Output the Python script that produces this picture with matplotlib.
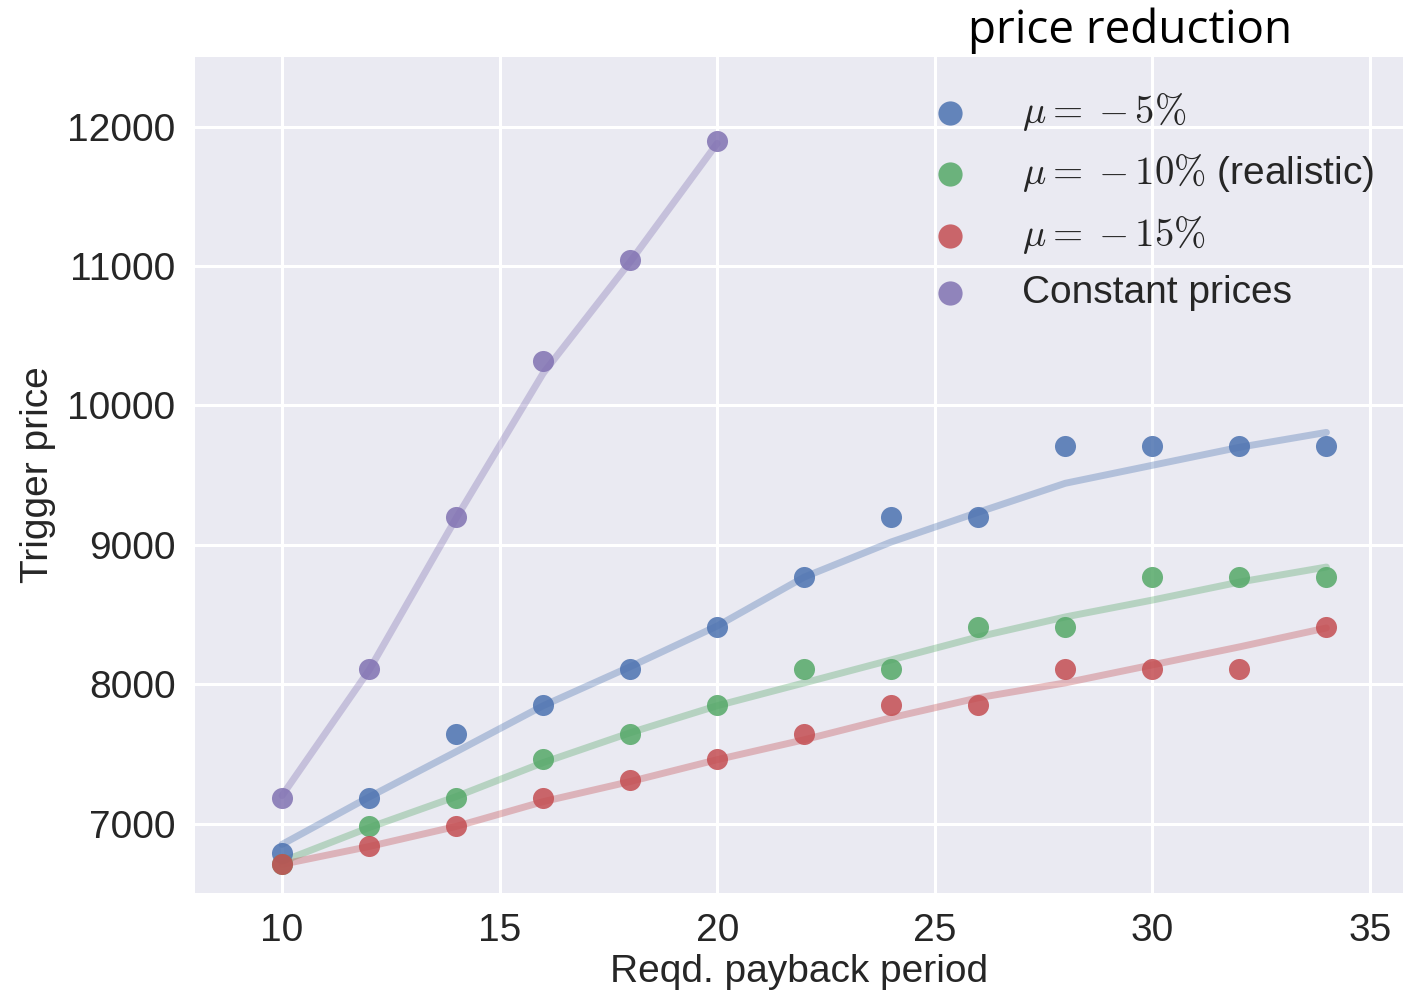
import matplotlib
matplotlib.use("Agg")
import matplotlib.pyplot as plt
import numpy as np

# payback periods (years)
periods = [10, 12, 14, 16, 18, 20, 22, 24, 26, 28, 30, 32, 34]
periods_const = [10, 12, 14, 16, 18, 20]

# trigger prices (points)
price_5 = [6790, 7180, 7640, 7850, 8110, 8410, 8770, 9200, 9200, 9710, 9710, 9710, 9710]
price_10 = [6710, 6980, 7180, 7460, 7640, 7850, 8110, 8110, 8410, 8410, 8770, 8770, 8770]
price_15 = [6710, 6840, 6980, 7180, 7310, 7460, 7640, 7850, 7850, 8110, 8110, 8110, 8410]
price_const = [7180, 8110, 9200, 10320, 11040, 11900]

# smoothed fits (lines)
fit_5 = [6850, 7190, 7515, 7845, 8125, 8417, 8768, 9020, 9233, 9441, 9570, 9699, 9806]
fit_10 = [6728, 6971, 7193, 7437, 7651, 7845, 8009, 8174, 8339, 8482, 8603, 8732, 8840]
fit_15 = [6707, 6835, 6979, 7157, 7301, 7458, 7601, 7759, 7902, 8009, 8138, 8267, 8403]
fit_const = [7200, 8100, 9190, 10230, 11030, 11880]

labels = [r"$\mu =\;{-}\,5\%$", r"$\mu =\;{-}\,10\%$ (realistic)", r"$\mu =\;{-}\,15\%$", "Constant prices"]
colors = ["#4C72B0", "#55A868", "#C44E52", "#8172B2"]

plt.rcParams["font.family"] = ["Liberation Sans", "DejaVu Sans"]
plt.rcParams["mathtext.fontset"] = "cm"

fig = plt.figure(figsize=(14.03, 9.98), dpi=100)
ax = fig.add_axes([0.139, 0.105, 0.861, 0.838])
ax.set_facecolor("#EAEAF2")
for s in ax.spines.values():
    s.set_visible(False)
ax.grid(True, color="white", linewidth=2.2)
ax.set_axisbelow(True)

series = [
    (periods, price_5, fit_5),
    (periods, price_10, fit_10),
    (periods, price_15, fit_15),
    (periods_const, price_const, fit_const),
]
for (xs, ys, fit), c, lab in zip(series, colors, labels):
    ax.plot(xs, fit, color=c, alpha=0.35, linewidth=5, solid_capstyle="round", zorder=2)
    ax.scatter(xs, ys, s=230, color=c, alpha=0.85, linewidths=0, label=lab, zorder=3)

ax.set_xlim(8, 35.76)
ax.set_ylim(6500, 12500)
ax.set_xticks([10, 15, 20, 25, 30, 35])
ax.set_yticks([7000, 8000, 9000, 10000, 11000, 12000])
ax.tick_params(length=0, labelsize=28, colors="#262626", pad=14)
ax.set_xlabel("Reqd. payback period", fontsize=28, color="#262626", labelpad=4)
ax.set_ylabel("Trigger price", fontsize=28, color="#262626", labelpad=8)

leg = ax.legend(loc="upper left", bbox_to_anchor=(0.596, 0.978),
                frameon=False, fontsize=28, scatterpoints=1, markerscale=1.15,
                handlelength=1.0, handletextpad=1.35, labelspacing=0.5,
                borderpad=0.4, borderaxespad=0)
for t in leg.get_texts():
    t.set_color("#262626")

ax.text(0.640, 1.031, "price reduction", transform=ax.transAxes, ha="left", va="center",
        fontsize=33, family=["Open Sans", "DejaVu Sans"], color="black", clip_on=False)

fig.savefig("out.png", dpi=100)
